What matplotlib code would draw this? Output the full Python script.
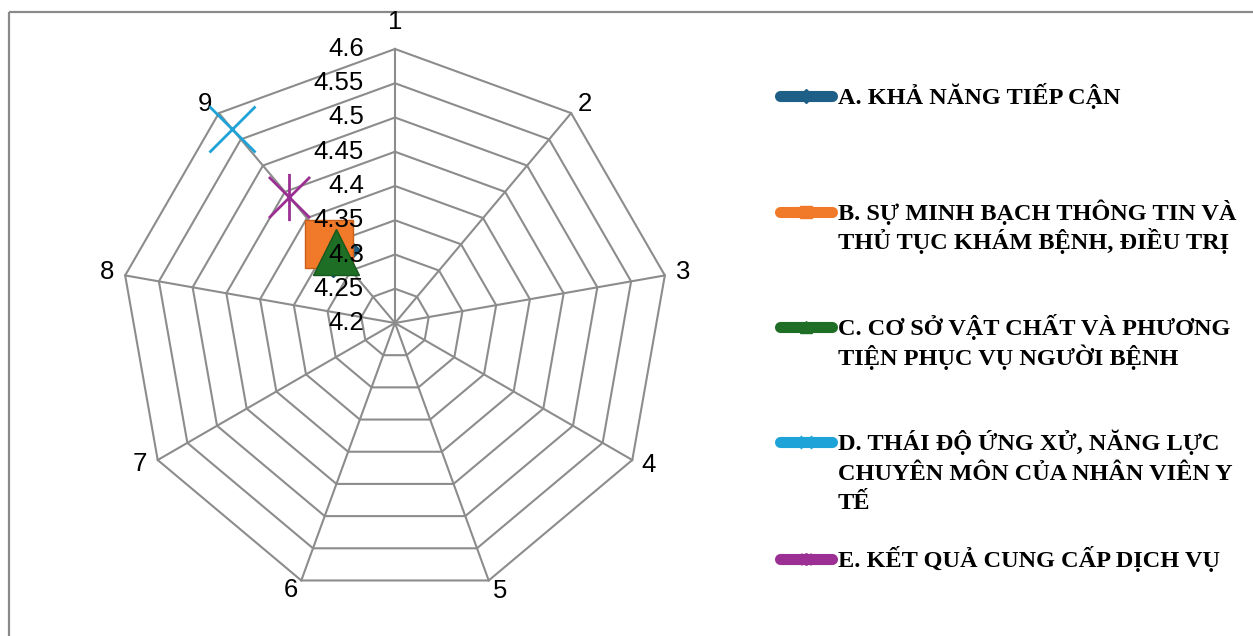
import numpy as np
import matplotlib
matplotlib.use("Agg")
import matplotlib.pyplot as plt
from matplotlib.path import Path
from matplotlib.patches import Rectangle
from matplotlib.lines import Line2D

# Radar categories and radial scale
categories = ["1", "2", "3", "4", "5", "6", "7", "8", "9"]
radial_ticks = [4.2, 4.25, 4.3, 4.35, 4.4, 4.45, 4.5, 4.55, 4.6]
tick_labels = ["4.2", "4.25", "4.3", "4.35", "4.4", "4.45", "4.5", "4.55", "4.6"]

# Series (each scored on category 9)
series_names = [
    ["A. KHẢ NĂNG TIẾP CẬN"],
    ["B. SỰ MINH BẠCH THÔNG TIN VÀ", "THỦ TỤC KHÁM BỆNH, ĐIỀU TRỊ"],
    ["C. CƠ SỞ VẬT CHẤT VÀ PHƯƠNG", "TIỆN PHỤC VỤ NGƯỜI BỆNH"],
    ["D. THÁI ĐỘ ỨNG XỬ, NĂNG LỰC", "CHUYÊN MÔN CỦA NHÂN VIÊN Y", "TẾ"],
    ["E. KẾT QUẢ CUNG CẤP DỊCH VỤ"],
]
series_values = [4.34, 4.35, 4.335, 4.57, 4.44]
series_category = "9"

colors = ["#1d5f86", "#f07a2a", "#1e6e25", "#1ea3d8", "#9c2f93"]
edge_colors = ["#174c6b", "#c95f18", "#17561c", "#1ea3d8", "#9c2f93"]

asterisk = Path(
    [(-1, -1), (1, 1), (-1, 1), (1, -1), (0, -1.15), (0, 1.15)],
    [Path.MOVETO, Path.LINETO, Path.MOVETO, Path.LINETO, Path.MOVETO, Path.LINETO],
)
markers = ["D", "s", "^", "x", asterisk]
marker_sizes = [28, 35, 33, 33, 34]
legend_marker_sizes = [7, 9, 8, 9, 9]

W, H = 1253, 636
PX = 0.72  # points per pixel at 100 dpi
fig = plt.figure(figsize=(W / 100, H / 100), dpi=100)

# Overlay in pixel coordinates for frame and legend
ov = fig.add_axes([0, 0, 1, 1])
ov.set_xlim(0, W)
ov.set_ylim(H, 0)
ov.set_axis_off()
ov.add_patch(Rectangle((9, 12), 1400, 800, fill=False, edgecolor="#8a8a8a", lw=1.6))

cx, cy, R = 395, 323, 274
ax = fig.add_axes([(cx - R) / W, (H - cy - R) / H, 2 * R / W, 2 * R / H], projection="polar")
ax.set_theta_zero_location("N")
ax.set_theta_direction(-1)
ax.set_ylim(radial_ticks[0], radial_ticks[-1])
ax.set_axis_off()

n = len(categories)
theta = np.linspace(0, 2 * np.pi, n, endpoint=False)
closed = np.append(theta, theta[0])

grid_col = "#8c8c8c"
for v in radial_ticks[1:]:
    ax.plot(closed, [v] * (n + 1), color=grid_col, lw=1.5, zorder=1, clip_on=False)
for t in theta:
    ax.plot([t, t], [radial_ticks[0], radial_ticks[-1]], color=grid_col, lw=1.5, zorder=1, clip_on=False)

# Radial tick labels along category 1
for v, lab in zip(radial_ticks, tick_labels):
    ax.annotate(lab, xy=(0, v), xytext=(-31 * PX, 0), textcoords="offset points",
                ha="right", va="center", fontsize=18.5, family="Liberation Sans",
                color="black", annotation_clip=False, zorder=20)

# Category labels placed just outside each outer vertex (pixel offsets)
label_offsets = [(0, -27), (14, -9), (18.5, -3), (16.5, 5), (11, 11),
                 (-10.5, 9.5), (-17.7, 3.5), (-18.4, -3), (-14.2, -9)]
for t, c, (dx, dy) in zip(theta, categories, label_offsets):
    ax.annotate(c, xy=(t, radial_ticks[-1]), xytext=(dx * PX, -dy * PX),
                textcoords="offset points", ha="center", va="center",
                fontsize=18.5, family="Liberation Sans", annotation_clip=False)

# Series markers
ci = categories.index(series_category)
for k, v in enumerate(series_values):
    hollow = k >= 3
    ax.plot([theta[ci]], [v], linestyle="none", marker=markers[k], ms=marker_sizes[k],
            markerfacecolor=colors[k], markeredgecolor=edge_colors[k],
            mew=2.0 if hollow else 1.0, zorder=3 + k, clip_on=False)

# Legend
legend_y = [96, 212, 327, 442, 559]
line_gap = 29.5
for k, (lines, y) in enumerate(zip(series_names, legend_y)):
    ov.add_line(Line2D([780, 832], [y, y], color=colors[k], lw=8, solid_capstyle="round"))
    ov.plot([806], [y], marker=markers[k], ms=legend_marker_sizes[k], color=colors[k],
            mec=colors[k], mew=2 if k >= 3 else 1)
    for j, txt in enumerate(lines):
        ov.text(838, y + 8 + j * line_gap, txt, ha="left", va="baseline",
                fontsize=17.5, family="Liberation Serif", fontweight="bold")

fig.savefig("out.png", dpi=100)
